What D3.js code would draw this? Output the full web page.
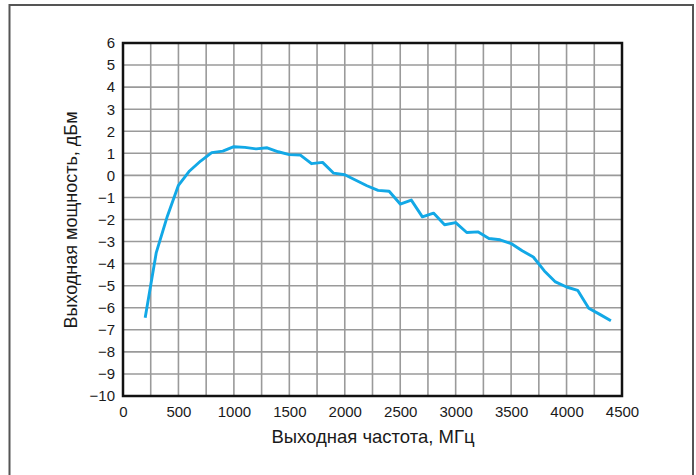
<!DOCTYPE html>
<html>
<head>
<meta charset="utf-8">
<script src="https://cdn.jsdelivr.net/npm/d3@7"></script>
<style>
  html, body { margin: 0; padding: 0; background: #fff; }
  svg { display: block; }
  text { font-family: "Liberation Sans", Arial, sans-serif; fill: #1a1a1a; }
</style>
</head>
<body>
<svg id="chart" width="696" height="475"></svg>
<script>
// Data
const freqMHz = [200,300,400,500,600,700,800,900,1000,1100,1200,1300,1400,1500,1600,1700,1800,1900,2000,2100,2200,2300,2400,2500,2600,2700,2800,2900,3000,3100,3200,3300,3400,3500,3600,3700,3800,3900,4000,4100,4200,4300,4400];
const powerDbm = [-6.45,-3.5,-1.85,-0.45,0.2,0.65,1.03,1.1,1.3,1.27,1.2,1.25,1.07,0.94,0.92,0.53,0.59,0.1,0.03,-0.22,-0.47,-0.68,-0.72,-1.3,-1.12,-1.88,-1.71,-2.24,-2.14,-2.59,-2.56,-2.86,-2.92,-3.09,-3.42,-3.7,-4.33,-4.83,-5.06,-5.21,-6.02,-6.3,-6.59];
const xTicks = [0,500,1000,1500,2000,2500,3000,3500,4000,4500];
const yTicks = [6,5,4,3,2,1,0,-1,-2,-3,-4,-5,-6,-7,-8,-9,-10];
const xLabel = "Выходная частота, МГц";
const yLabel = "Выходная мощность, дБм";

const svg = d3.select("#chart");
const m = {left: 123, top: 43, right: 622, bottom: 396};

// outer frame
svg.append("rect")
  .attr("x", 9.5).attr("y", 5).attr("width", 683.5).attr("height", 490)
  .attr("fill", "none").attr("stroke", "#555").attr("stroke-width", 2);

const x = d3.scaleLinear().domain([0, 4500]).range([m.left, m.right]);
const y = d3.scaleLinear().domain([-10, 6]).range([m.bottom, m.top]);

const g = svg.append("g");

// grid
const xGrid = d3.range(250, 4500, 250);
const yGrid = d3.range(-9, 6, 1);
g.selectAll(".vg").data(xGrid).join("line")
  .attr("x1", d => x(d)).attr("x2", d => x(d))
  .attr("y1", m.top).attr("y2", m.bottom)
  .attr("stroke", "#9a9a9a").attr("stroke-width", 1.6);
g.selectAll(".hg").data(yGrid).join("line")
  .attr("x1", m.left).attr("x2", m.right)
  .attr("y1", d => y(d)).attr("y2", d => y(d))
  .attr("stroke", "#9a9a9a").attr("stroke-width", 1.6);

// axes (labels only)
const xAxis = d3.axisBottom(x).tickValues(xTicks).tickSize(0).tickPadding(0).tickFormat(d3.format("d"));
const xa = svg.append("g").attr("transform", `translate(0,${m.bottom})`).call(xAxis);
xa.select(".domain").remove();
xa.selectAll("text").attr("dy", null).attr("y", 21).attr("font-size", 15).style("fill", "#1a1a1a")
  .attr("font-family", "Liberation Sans, Arial, sans-serif");

const yAxis = d3.axisLeft(y).tickValues(yTicks).tickSize(0).tickPadding(0).tickFormat(d3.format("d"));
const ya = svg.append("g").attr("transform", `translate(${m.left - 8},0)`).call(yAxis);
ya.select(".domain").remove();
ya.selectAll("text").attr("font-size", 15).style("fill", "#1a1a1a")
  .attr("font-family", "Liberation Sans, Arial, sans-serif");

// plot border
svg.append("rect")
  .attr("x", m.left).attr("y", m.top)
  .attr("width", m.right - m.left).attr("height", m.bottom - m.top)
  .attr("fill", "none").attr("stroke", "#111").attr("stroke-width", 2.5);

// line
const line = d3.line().x((d, i) => x(freqMHz[i])).y(d => y(d));
svg.append("path")
  .datum(powerDbm)
  .attr("d", line)
  .attr("fill", "none")
  .attr("stroke", "#12a8e6")
  .attr("stroke-width", 2.9)
  .attr("stroke-linejoin", "round");

// axis titles
svg.append("text")
  .attr("x", 373).attr("y", 443)
  .attr("text-anchor", "middle")
  .attr("font-size", 18.5)
  .text(xLabel);

svg.append("text")
  .attr("transform", "translate(77,220) rotate(-90)")
  .attr("text-anchor", "middle")
  .attr("font-size", 18)
  .text(yLabel);
</script>
</body>
</html>
